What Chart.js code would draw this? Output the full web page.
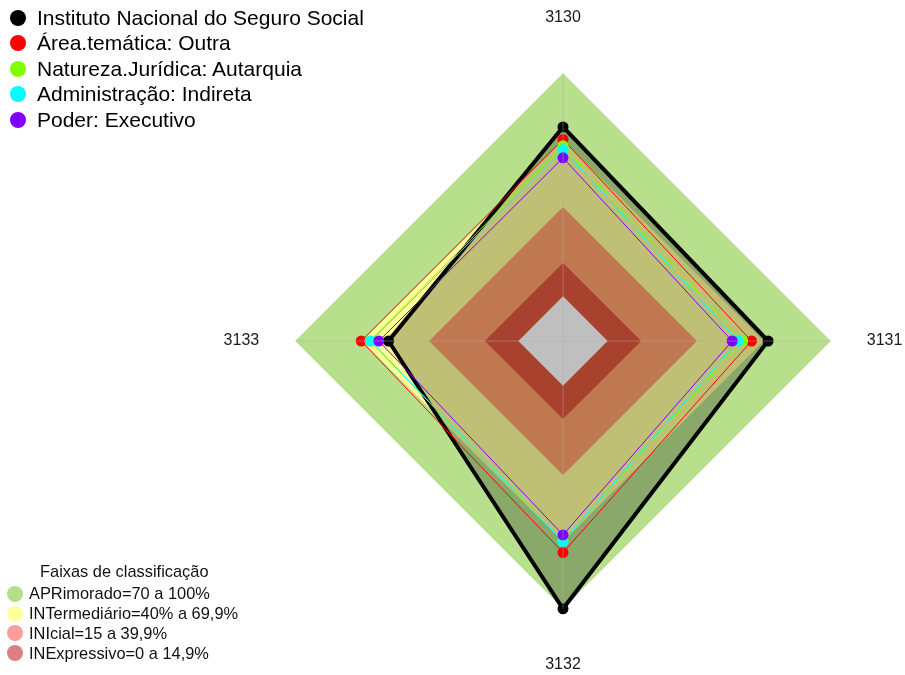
<!DOCTYPE html>
<html>
<head>
<meta charset="utf-8">
<script src="https://cdn.jsdelivr.net/npm/chart.js@4.4.0/dist/chart.umd.min.js"></script>
<style>
  body { margin: 0; background: #fff; font-family: Arial, "Liberation Sans", sans-serif; }
  #wrap { position: relative; width: 905px; height: 675px; }
  #radar { position: absolute; left: 0; top: 0; }
  .leg { position: absolute; color: #000; white-space: nowrap; }
  .row { display: flex; align-items: center; }
  .dot { border-radius: 50%; flex: none; }
  #topLegend { left: 10px; top: 5px; font-size: 21px; }
  #topLegend .row { height: 25.5px; }
  #topLegend .dot { width: 16px; height: 16px; margin-right: 11px; }
  #bandLegend { left: 7px; top: 561px; font-size: 16.4px; color: #111; }
  #bandLegend .title { margin-left: 33px; height: 23px; line-height: 20px; }
  #bandLegend .row { height: 19.8px; }
  #bandLegend .dot { width: 16px; height: 16px; margin-right: 6px; }
</style>
</head>
<body>
<div id="wrap">
  <canvas id="radar" width="905" height="675"></canvas>
  <div id="topLegend" class="leg"></div>
  <div id="bandLegend" class="leg"></div>
</div>
<script>
// axes (clockwise from top)
const axisLabels = ['3130', '3131', '3132', '3133']

const seriesNames = [
    'Instituto Nacional do Seguro Social',
    'Área.temática: Outra',
    'Natureza.Jurídica: Autarquia',
    'Administração: Indireta',
    'Poder: Executivo'
]
const seriesColors = ['#000000', '#ff0000', '#80ff00', '#00ffff', '#8000ff']

const instituto = [75.9, 71.9, 100, 58.2]
const areaOutra = [70.3, 64.5, 74.8, 70.4]
const autarquia = [67.5, 60.5, 69.5, 66.5]
const indireta = [65.8, 58.5, 69.9, 66.1]
const executivo = [62.1, 55.8, 66.9, 62.5]

// classification bands
const bandTitle = 'Faixas de classificação'
const bandNames = ['APRimorado=70 a 100%', 'INTermediário=40% a 69,9%', 'INIcial=15 a 39,9%', 'INExpressivo=0 a 14,9%']
const bandLimits = [100, 70, 40, 15, 0]
const bandFill = ['#b8e08c', '#ffff9c', '#ffa06b', '#e0573c', '#ffffff']
const bandLegendColors = ['#b5de8c', '#ffff9e', '#ff9c9c', '#d98080']

const scaleMin = -20
const scaleMax = 100

window.onload = () => {
    const allSeries = [instituto, areaOutra, autarquia, indireta, executivo]

    // drawing order: bands first, then series
    let drawList = []
    bandLimits.forEach((limit, i) => {
        drawList.push({
            label: 'band' + limit,
            data: axisLabels.map(() => limit),
            fill: 'start',
            backgroundColor: bandFill[i],
            borderWidth: 0,
            pointRadius: 0
        })
    })
    allSeries.forEach((values, i) => {
        drawList.push({
            label: seriesNames[i],
            data: values,
            fill: i === 0 ? 'start' : false,
            backgroundColor: i === 0 ? 'rgba(0,0,0,0.25)' : seriesColors[i],
            borderColor: seriesColors[i],
            borderWidth: i === 0 ? 4 : 1,
            pointRadius: 5.5,
            pointBorderWidth: 0,
            pointBackgroundColor: seriesColors[i]
        })
    })
    drawList.forEach((ds, i) => { ds.order = drawList.length - i })

    const ctx = document.getElementById('radar').getContext('2d')
    new Chart(ctx, {
        type: 'radar',
        data: { labels: axisLabels, datasets: drawList },
        options: {
            responsive: false,
            animation: false,
            devicePixelRatio: 1,
            layout: { padding: { left: 221, right: 0, top: 8, bottom: 0 } },
            plugins: { legend: { display: false }, tooltip: { enabled: false } },
            elements: { line: { tension: 0 } },
            scales: {
                r: {
                    min: scaleMin,
                    max: scaleMax,
                    ticks: { display: false },
                    // spokes go over the bands, like the original
                    grid: { display: false, z: 1 },
                    angleLines: { display: true, color: 'rgba(175,175,175,0.45)', lineWidth: 1 },
                    pointLabels: {
                        color: '#1a1a1a',
                        font: { family: 'Arial, "Liberation Sans", sans-serif', size: 16 },
                        padding: (c) => c.index % 2 === 0 ? 46 : 36
                    }
                }
            }
        }
    })

    // legends as html text
    const topLegend = document.getElementById('topLegend')
    seriesNames.forEach((name, i) => {
        topLegend.innerHTML += `<div class="row"><span class="dot" style="background:${seriesColors[i]}"></span>${name}</div>`
    })

    const bandLegend = document.getElementById('bandLegend')
    bandLegend.innerHTML = `<div class="title">${bandTitle}</div>`
    bandNames.forEach((name, i) => {
        bandLegend.innerHTML += `<div class="row"><span class="dot" style="background:${bandLegendColors[i]}"></span>${name}</div>`
    })
}
</script>
</body>
</html>
